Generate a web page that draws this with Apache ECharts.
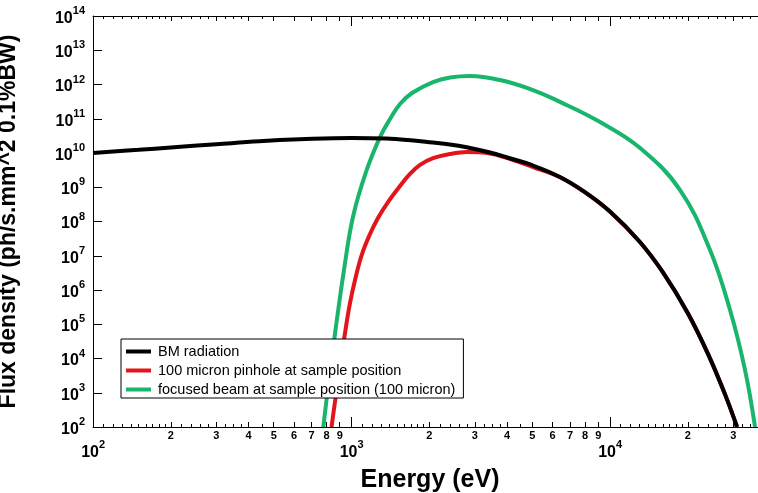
<!DOCTYPE html>
<html><head><meta charset="utf-8">
<script src="https://cdn.jsdelivr.net/npm/echarts@6/dist/echarts.min.js"></script>
<style>html,body{margin:0;padding:0;background:#fff}#c{width:758px;height:493px}</style>
</head><body><div id="c"></div>
<script>
// ---- data (energy in eV, flux in ph/s.mm^2 0.1%BW) ----
const seriesNames = ['BM radiation', '100 micron pinhole at sample position', 'focused beam at sample position (100 micron)'];
const seriesColors = ['#000000', '#e3141c', '#19b56c'];

const bmEnergy = [100, 150, 200, 300, 440, 630, 1000, 1360, 1650, 2000, 2400, 2790, 3400, 4000, 5000, 6400, 8000, 10000, 13000, 16000, 20000, 24000, 28000, 31000];
const bmFlux   = [1.0e10, 1.24e10, 1.45e10, 1.8e10, 2.2e10, 2.5e10, 2.75e10, 2.65e10, 2.4e10, 2.05e10, 1.78e10, 1.48e10, 1.05e10, 7.4e9, 4.4e9, 2.0e9, 7.2e8, 1.95e8, 2.6e7, 3.3e6, 2.1e5, 1.3e4, 8.1e2, 1.0e2];

const pinEnergy = [837, 863, 903, 944, 987, 1041, 1098, 1179, 1266, 1384, 1540, 1684, 1841, 2067, 2405, 2798, 3344, 4215, 5036, 6400, 8000, 10000, 13000, 16000, 20000, 24000, 28000, 31000];
const pinFlux   = [1.0e2, 5.4e2, 5.6e3, 5.6e4, 4.2e5, 2.6e6, 1.12e7, 4.3e7, 1.27e8, 3.7e8, 1.09e9, 2.44e9, 4.5e9, 7.1e9, 9.4e9, 1.07e10, 1.0e10, 6.25e9, 3.9e9, 1.95e9, 7.1e8, 1.93e8, 2.6e7, 3.3e6, 2.1e5, 1.3e4, 8.1e2, 1.0e2];

const focEnergy = [778, 818, 864, 935, 1013, 1138, 1289, 1409, 1540, 1714, 2067, 2405, 2873, 3753, 5036, 6408, 9149, 13070, 18660, 24370, 29120, 33290, 36390];
const focFlux   = [1.0e2, 2.4e3, 5.6e4, 3.8e6, 1.35e8, 2.8e9, 2.9e10, 9.8e10, 2.7e11, 5.65e11, 1.18e12, 1.6e12, 1.77e12, 1.35e12, 6.9e11, 3.1e11, 8.0e10, 1.4e10, 8.3e8, 1.47e7, 2.6e5, 4.6e3, 1.0e2];

// axis ticks (energies) and y decades
const xRangeEnergy = [100, 37360];
const yRangeExponent = [2, 14];
const majorTickEnergy = [100, 1000, 10000];
const minorTickEnergy = [200, 300, 400, 500, 600, 700, 800, 900, 2000, 3000, 4000, 5000, 6000, 7000, 8000, 9000, 20000, 30000];
const subTickEnergy = [110, 120, 130, 140, 150, 160, 170, 180, 190, 220, 240, 260, 280, 325, 350, 375, 450,
  1100, 1200, 1300, 1400, 1500, 1600, 1700, 1800, 1900, 2200, 2400, 2600, 2800, 3250, 3500, 3750, 4500,
  11000, 12000, 13000, 14000, 15000, 16000, 17000, 18000, 19000, 22000, 24000, 26000, 28000, 32500, 35000];

const lg = Math.log10;
const FONT = "'Liberation Sans', Arial, Helvetica, sans-serif";
const toPairs = (es, fs) => es.map((e, i) => [lg(e), lg(fs[i])]);

function xAx(pos, ticks, len, opts) {
  return Object.assign({
    type: 'value', position: pos, gridIndex: 0,
    min: lg(xRangeEnergy[0]), max: lg(xRangeEnergy[1]),
    axisLine: { show: false },
    axisTick: { show: true, inside: true, length: len, customValues: ticks.map(lg), lineStyle: { color: '#000', width: 1 } },
    axisLabel: { show: false },
    splitLine: { show: false }
  }, opts || {});
}

const supRich = {
  h: { fontFamily: FONT, fontSize: 1, lineHeight: 21, color: 'rgba(0,0,0,0)' },
  b: { fontFamily: FONT, fontWeight: 'bold', fontSize: 16, color: '#000', lineHeight: 16, verticalAlign: 'bottom' },
  s: { fontFamily: FONT, fontWeight: 'bold', fontSize: 11, color: '#000', lineHeight: 11, verticalAlign: 'top' }
};
const supLabel = v => '{h| }{b|10}{s|' + Math.round(v) + '}';

const chart = echarts.init(document.getElementById('c'), null, { renderer: 'canvas' });
chart.setOption({
  animation: false,
  backgroundColor: '#ffffff',
  grid: { left: 93, right: 0, top: 16, bottom: 66, containLabel: false, outerBoundsMode: 'none' },
  legend: {
    orient: 'vertical', left: 121, top: 339,
    icon: 'rect', itemWidth: 25, itemHeight: 4, itemGap: 4,
    padding: [5, 8, 1, 5],
    borderColor: '#000', borderWidth: 1, borderRadius: 0, backgroundColor: '#fff',
    textStyle: { fontFamily: FONT, fontSize: 14.5, color: '#000', padding: [0, 0, 0, 2] },
    data: seriesNames
  },
  xAxis: [
    xAx('bottom', majorTickEnergy, 10, {
      axisLine: { show: true, lineStyle: { color: '#000', width: 1 } },
      axisLabel: { show: true, customValues: majorTickEnergy.map(lg), margin: 12.5, formatter: supLabel, rich: supRich },
      name: 'Energy (eV)', nameLocation: 'middle', nameGap: 41,
      nameTextStyle: { fontFamily: FONT, fontWeight: 'bold', fontSize: 25, color: '#000', padding: [0, 0, 0, 9] }
    }),
    xAx('bottom', minorTickEnergy, 5, {
      axisLabel: {
        show: true, customValues: minorTickEnergy.map(lg), margin: 3,
        fontFamily: FONT, fontWeight: 'bold', fontSize: 11, color: '#000',
        formatter: v => String(Math.round(Math.pow(10, v - Math.floor(v + 1e-9))))
      }
    }),
    xAx('bottom', subTickEnergy, 3),
    xAx('top', majorTickEnergy, 10, { axisLine: { show: true, lineStyle: { color: '#000', width: 1 } } }),
    xAx('top', minorTickEnergy, 5),
    xAx('top', subTickEnergy, 3)
  ],
  yAxis: {
    type: 'value', min: yRangeExponent[0], max: yRangeExponent[1], interval: 1,
    axisLine: { show: true, lineStyle: { color: '#000', width: 1 } },
    axisTick: { show: true, inside: true, length: 9, lineStyle: { color: '#000' } },
    axisLabel: { margin: 8, formatter: supLabel, rich: supRich },
    splitLine: { show: false },
    name: 'Flux density (ph/s.mm^2 0.1%BW)', nameLocation: 'middle', nameGap: 73, nameRotate: 90,
    nameTextStyle: { fontFamily: FONT, fontWeight: 'bold', fontSize: 23, color: '#000' }
  },
  series: [
    { name: seriesNames[0], type: 'line', data: toPairs(bmEnergy, bmFlux), color: seriesColors[0], z: 4 },
    { name: seriesNames[1], type: 'line', data: toPairs(pinEnergy, pinFlux), color: seriesColors[1], z: 2 },
    { name: seriesNames[2], type: 'line', data: toPairs(focEnergy, focFlux), color: seriesColors[2], z: 3 }
  ].map(s => Object.assign(s, {
    xAxisIndex: 0, yAxisIndex: 0, symbol: 'none', showSymbol: false, smooth: 0.4,
    lineStyle: { width: 4, color: s.color }, itemStyle: { color: s.color }
  }))
});
</script>
</body></html>
